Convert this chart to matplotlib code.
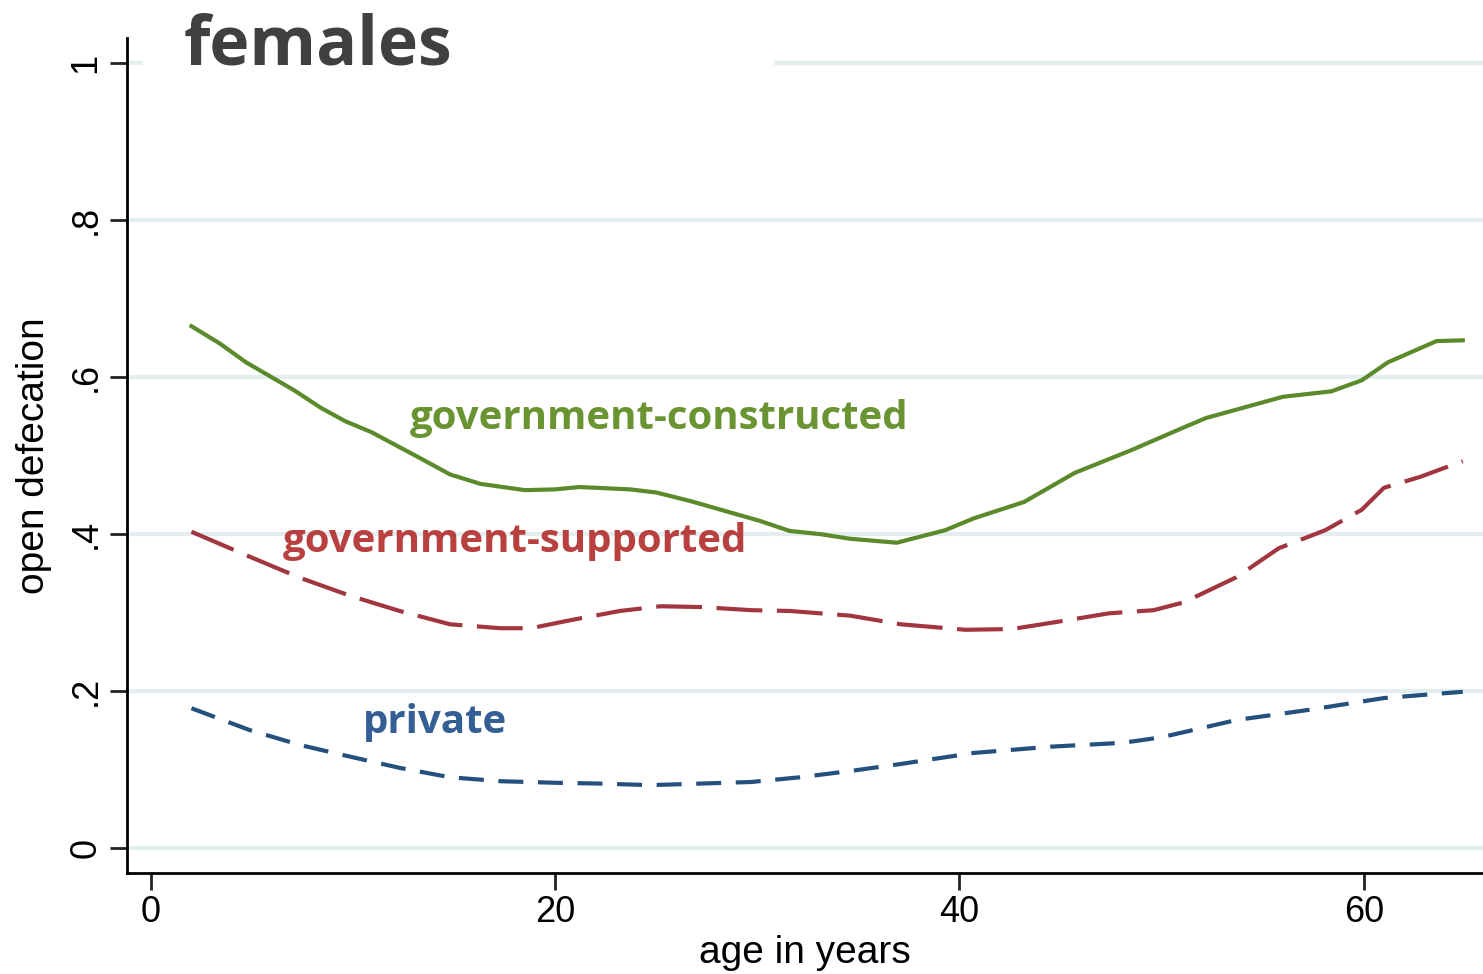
import matplotlib.pyplot as plt
from matplotlib.patches import Rectangle

# ages (years) and smoothed open-defecation shares
age_gc = [2.0, 3.4, 4.7, 7.1, 8.4, 9.6, 10.9, 13.3, 14.8, 16.3, 18.5, 20.0, 21.2,
          23.7, 25.0, 26.7, 30.1, 31.6, 33.1, 34.6, 36.9, 39.3, 40.7, 43.2, 45.7,
          48.5, 51.1, 52.2, 56.0, 58.4, 59.9, 61.2, 63.6, 64.9]
gov_constructed = [0.665, 0.643, 0.619, 0.583, 0.561, 0.544, 0.530, 0.497, 0.476,
                   0.464, 0.456, 0.457, 0.460, 0.457, 0.453, 0.442, 0.417, 0.404,
                   0.400, 0.394, 0.389, 0.405, 0.420, 0.441, 0.478, 0.507, 0.536,
                   0.548, 0.575, 0.582, 0.596, 0.619, 0.646, 0.647]

age_gs = [2.0, 4.9, 7.4, 9.9, 12.3, 14.8, 17.3, 18.8, 20.7, 23.2, 25.2, 27.2, 29.7,
          31.6, 34.6, 37.1, 40.3, 42.6, 44.8, 47.4, 49.6, 51.1, 53.7, 55.8, 58.1,
          59.9, 61.0, 62.8, 64.9]
gov_supported = [0.403, 0.371, 0.344, 0.321, 0.302, 0.285, 0.280, 0.280, 0.290,
                 0.302, 0.308, 0.307, 0.303, 0.302, 0.296, 0.285, 0.278, 0.279,
                 0.288, 0.299, 0.303, 0.313, 0.345, 0.382, 0.405, 0.431, 0.459,
                 0.473, 0.493]

age_pr = [2.0, 4.9, 7.4, 9.9, 12.3, 14.8, 17.3, 20.0, 22.2, 24.7, 27.2, 29.7, 32.1,
          34.6, 37.1, 40.7, 44.5, 48.1, 50.0, 53.7, 57.3, 61.0, 64.9]
private = [0.178, 0.150, 0.131, 0.116, 0.102, 0.090, 0.085, 0.083, 0.082, 0.080,
           0.082, 0.084, 0.090, 0.098, 0.107, 0.121, 0.129, 0.134, 0.141, 0.163,
           0.176, 0.191, 0.199]

xticks = [0, 20, 40, 60]
yticks = [0, 0.2, 0.4, 0.6, 0.8, 1.0]
ytick_labels = ['0', '.2', '.4', '.6', '.8', '1']

plt.rcParams['font.family'] = ['Liberation Sans', 'DejaVu Sans']

fig = plt.figure(figsize=(14.83, 9.74), dpi=100)
ax = fig.add_axes([0.0856, 0.1037, 0.9144, 0.857])

for y in yticks:
    ax.axhline(y, color='#e4eef0', lw=3, zorder=0)
# white box behind the title hides part of the top grid line
ax.add_patch(Rectangle((0.012, 0.955), 0.465, 0.1, transform=ax.transAxes,
                       facecolor='white', edgecolor='none', zorder=1, clip_on=False))

ax.plot(age_gc, gov_constructed, color='#5b8a2b', lw=3, zorder=3)
ax.plot(age_gs, gov_supported, color='#a23640', lw=3, dashes=(11, 3.5), zorder=3)
ax.plot(age_pr, private, color='#24507e', lw=3, dashes=(6, 3.5), zorder=3)

lab_font = ['Open Sans', 'DejaVu Sans']
ax.text(12.8, 0.547, 'government-constructed', color='#6a9432', fontsize=29,
        fontweight='bold', family=lab_font, va='center', ha='left')
ax.text(6.5, 0.39, 'government-supported', color='#b8403f', fontsize=29,
        fontweight='bold', family=lab_font, va='center', ha='left')
ax.text(10.5, 0.16, 'private', color='#335f94', fontsize=29,
        fontweight='bold', family=lab_font, va='center', ha='left')
ax.text(1.6, 1.022, 'females', color='#404040', fontsize=49, fontweight='bold',
        family=lab_font, va='center', ha='left', zorder=5, clip_on=False)

ax.set_xlim(-1.19, 65.9)
ax.set_ylim(-0.032, 1.032)
ax.set_xticks(xticks)
ax.set_yticks(yticks)
ax.set_yticklabels(ytick_labels, rotation=90, va='center')
ax.tick_params(labelsize=26, length=12, width=2, color='#222222')
ax.tick_params(axis='y', pad=5)
ax.spines['top'].set_visible(False)
ax.spines['right'].set_visible(False)
ax.spines['left'].set_linewidth(2)
ax.spines['bottom'].set_linewidth(2)
ax.set_xlabel('age in years', fontsize=28, labelpad=4)
ax.set_ylabel('open defecation', fontsize=28, labelpad=12)

plt.savefig('out.png', dpi=fig.dpi)
